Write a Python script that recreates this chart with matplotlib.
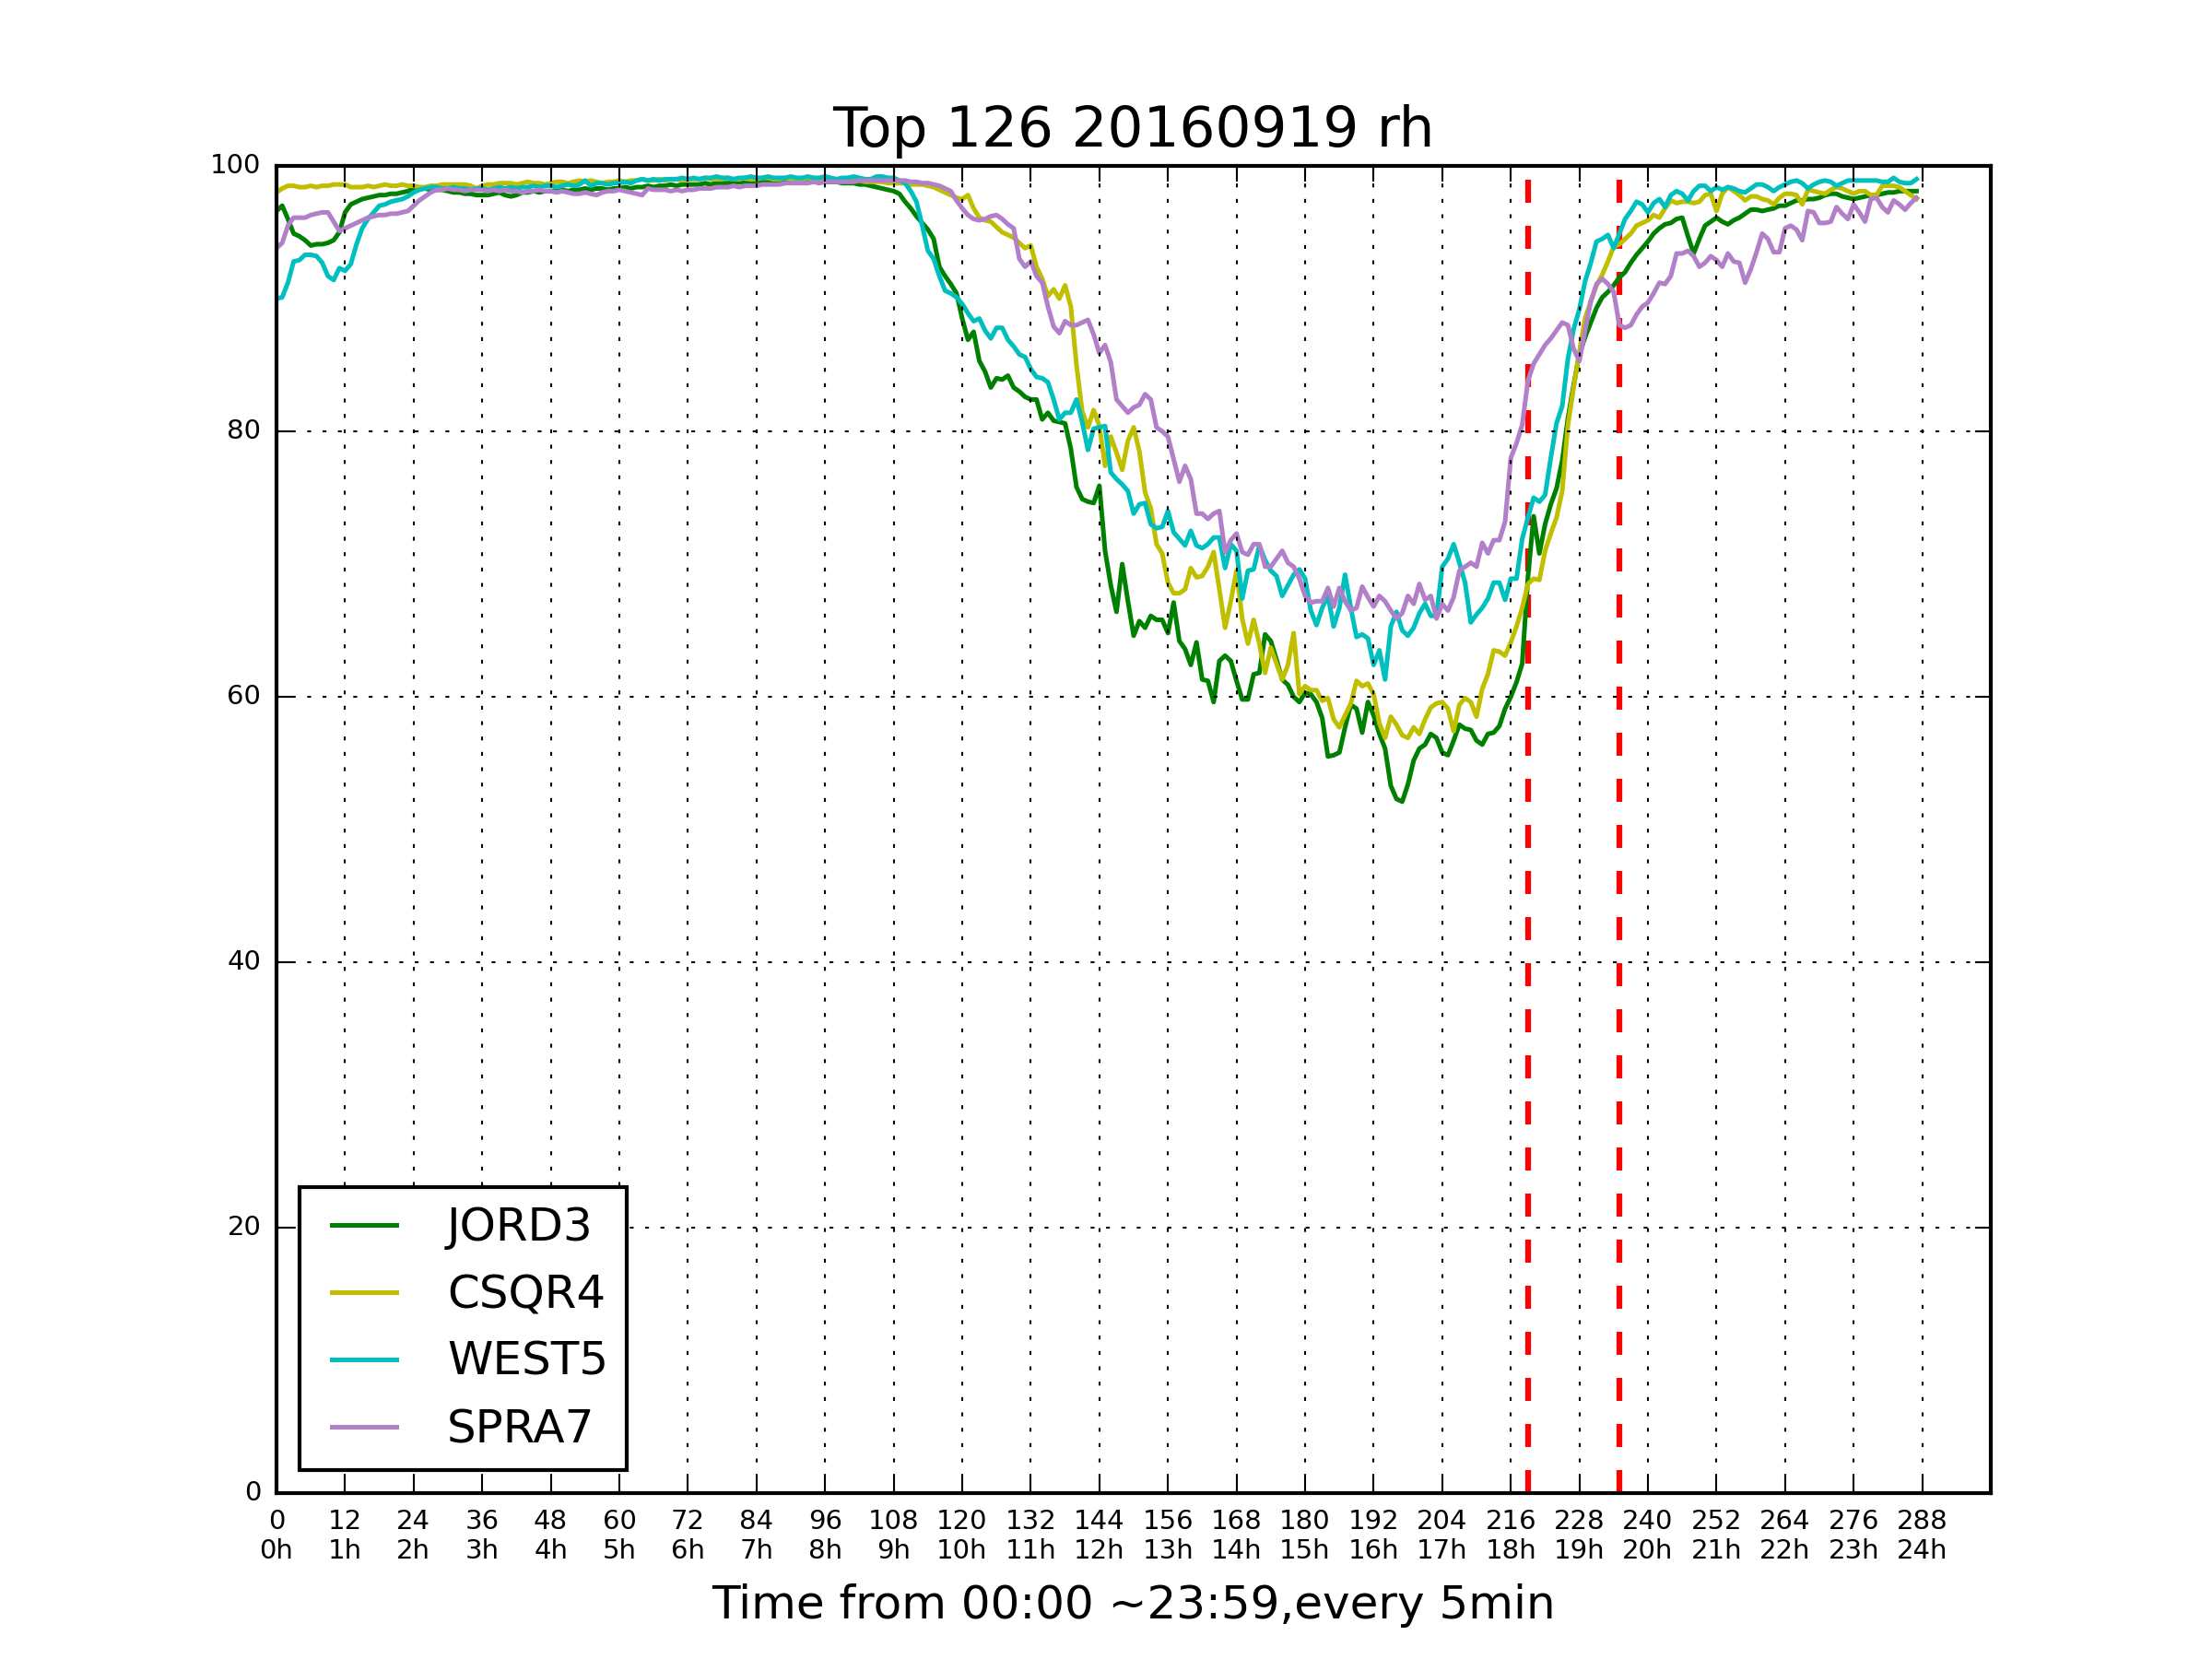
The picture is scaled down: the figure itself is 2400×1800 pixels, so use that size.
import matplotlib
matplotlib.use("Agg")
import matplotlib.pyplot as plt
import numpy as np

plt.style.use("classic")

# relative humidity, one value every 5 minutes (index 0..287)
jord3 = [
    96.6, 97.0, 96.0, 94.9, 94.7, 94.4, 94.0, 94.1, 94.1, 94.2,
    94.4, 95.0, 96.5, 97.1, 97.3, 97.5, 97.6, 97.7, 97.8, 97.8,
    97.9, 97.9, 98.0, 98.1, 98.3, 98.3, 98.3, 98.2, 98.2, 98.2,
    98.1, 98.0, 98.0, 97.9, 97.9, 97.8, 97.8, 97.8, 97.9, 98.0,
    97.8, 97.7, 97.8, 98.0, 98.0, 98.1, 98.0, 98.1, 98.1, 98.1,
    98.2, 98.1, 98.2, 98.2, 98.3, 98.2, 98.3, 98.3, 98.2, 98.3,
    98.3, 98.4, 98.3, 98.4, 98.4, 98.5, 98.4, 98.5, 98.5, 98.6,
    98.5, 98.6, 98.6, 98.6, 98.6, 98.7, 98.6, 98.7, 98.7, 98.7,
    98.7, 98.8, 98.7, 98.7, 98.7, 98.8, 98.8, 98.7, 98.8, 98.8,
    98.8, 98.9, 98.8, 98.8, 98.8, 98.9, 98.8, 98.8, 98.8, 98.7,
    98.7, 98.7, 98.6, 98.6, 98.5, 98.4, 98.3, 98.2, 98.1, 97.9,
    97.3, 96.8, 96.2, 95.7, 95.2, 94.5, 92.4, 91.7, 91.1, 90.4,
    88.5, 86.9, 87.5, 85.3, 84.5, 83.3, 84.0, 83.9, 84.2, 83.3,
    83.0, 82.6, 82.4, 82.4, 80.9, 81.4, 80.8, 80.7, 80.6, 78.7,
    75.8, 74.9, 74.7, 74.6, 75.9, 71.0, 68.4, 66.4, 70.0, 67.2,
    64.6, 65.7, 65.2, 66.1, 65.8, 65.8, 64.8, 67.1, 64.2, 63.6,
    62.4, 64.1, 61.3, 61.2, 59.6, 62.7, 63.1, 62.7, 61.2, 59.8,
    59.8, 61.7, 61.8, 64.7, 64.2, 62.8, 61.3, 60.9, 60.0, 59.6,
    60.3, 60.2, 59.6, 58.4, 55.5, 55.6, 55.8, 57.7, 59.4, 59.1,
    57.3, 59.6, 58.6, 57.2, 56.1, 53.3, 52.3, 52.1, 53.4, 55.2,
    56.1, 56.4, 57.2, 56.9, 55.8, 55.6, 56.7, 57.9, 57.6, 57.5,
    56.7, 56.4, 57.2, 57.3, 57.8, 59.1, 60.0, 61.1, 62.5, 69.0,
    73.6, 70.8, 73.0, 74.5, 75.7, 77.8, 81.0, 83.5, 85.8, 87.1,
    88.2, 89.3, 90.1, 90.5, 91.0, 91.6, 92.0, 92.7, 93.3, 93.8,
    94.3, 94.9, 95.3, 95.6, 95.7, 96.0, 96.1, 94.7, 93.4, 94.5,
    95.5, 95.8, 96.1, 95.8, 95.6, 95.9, 96.1, 96.4, 96.7, 96.7,
    96.6, 96.7, 96.8, 97.0, 97.0, 97.2, 97.4, 97.4, 97.5, 97.5,
    97.6, 97.8, 97.9, 97.9, 97.7, 97.6, 97.5, 97.6, 97.7, 97.8,
    97.8, 97.9, 98.0, 98.0, 98.1, 98.1, 98.1, 98.1,
]

csqr4 = [
    98.0, 98.3, 98.5, 98.5, 98.4, 98.4, 98.5, 98.4, 98.5, 98.5,
    98.6, 98.6, 98.6, 98.4, 98.4, 98.4, 98.5, 98.4, 98.5, 98.6,
    98.5, 98.5, 98.6, 98.5, 98.5, 98.4, 98.4, 98.5, 98.5, 98.6,
    98.6, 98.6, 98.6, 98.6, 98.5, 98.3, 98.5, 98.6, 98.6, 98.7,
    98.7, 98.7, 98.6, 98.7, 98.8, 98.7, 98.7, 98.6, 98.7, 98.8,
    98.8, 98.7, 98.8, 98.9, 98.8, 98.9, 98.8, 98.7, 98.8, 98.8,
    98.9, 98.8, 98.9, 98.9, 99.0, 98.9, 98.9, 99.0, 98.9, 99.0,
    99.0, 98.9, 99.0, 99.0, 99.0, 99.1, 99.0, 99.0, 99.0, 99.1,
    99.0, 99.0, 99.1, 99.0, 99.0, 99.1, 99.1, 99.0, 99.0, 99.1,
    99.0, 99.0, 99.0, 99.1, 99.0, 99.0, 99.0, 98.9, 99.0, 98.9,
    98.9, 98.9, 98.9, 98.8, 98.8, 98.8, 98.8, 98.7, 98.7, 98.7,
    98.7, 98.6, 98.6, 98.6, 98.5, 98.4, 98.2, 98.0, 97.8, 97.6,
    97.5, 97.8, 96.8, 96.1, 95.9, 95.8, 95.4, 95.0, 94.8, 94.6,
    94.2, 93.8, 94.0, 92.4, 91.5, 90.2, 90.7, 90.0, 91.0, 89.4,
    85.0, 81.5, 80.3, 81.6, 80.4, 77.4, 79.6, 78.4, 77.1, 79.3,
    80.3, 78.5, 75.4, 74.2, 71.5, 70.8, 68.6, 67.8, 67.8, 68.1,
    69.7, 69.0, 69.1, 69.8, 70.9, 68.1, 65.2, 67.2, 69.5, 65.9,
    64.0, 65.8, 64.0, 61.8, 63.7, 62.5, 61.3, 62.4, 64.8, 60.2,
    60.8, 60.5, 60.5, 59.7, 59.9, 58.3, 57.7, 58.6, 59.5, 61.2,
    60.8, 61.0, 60.2, 58.0, 56.9, 58.5, 57.9, 57.1, 56.9, 57.7,
    57.2, 58.3, 59.2, 59.5, 59.6, 59.1, 57.4, 59.4, 59.9, 59.6,
    58.5, 60.6, 61.7, 63.5, 63.4, 63.1, 64.1, 65.3, 66.7, 68.5,
    68.9, 68.8, 71.0, 72.3, 73.5, 75.5, 80.5, 83.3, 86.0, 88.5,
    89.8, 91.0, 91.8, 92.8, 93.9, 94.1, 94.5, 94.9, 95.5, 95.7,
    95.9, 96.3, 96.1, 96.8, 97.4, 97.2, 97.3, 97.3, 97.2, 97.3,
    97.8, 97.9, 96.6, 97.9, 98.4, 98.1, 97.8, 97.4, 97.7, 97.7,
    97.5, 97.4, 97.1, 97.6, 97.9, 97.9, 97.8, 97.1, 98.2, 98.1,
    98.0, 97.9, 98.2, 98.4, 98.3, 98.1, 97.9, 98.1, 98.1, 97.8,
    97.8, 98.5, 98.5, 98.5, 98.4, 98.1, 97.8, 97.5,
]

west5 = [
    90.0, 90.1, 91.2, 92.8, 92.9, 93.3, 93.3, 93.2, 92.7, 91.7,
    91.4, 92.3, 92.1, 92.6, 94.1, 95.3, 96.0, 96.5, 97.0, 97.1,
    97.3, 97.4, 97.5, 97.7, 98.0, 98.2, 98.3, 98.4, 98.4, 98.3,
    98.3, 98.4, 98.3, 98.3, 98.2, 98.3, 98.3, 98.2, 98.3, 98.4,
    98.3, 98.4, 98.3, 98.4, 98.4, 98.5, 98.4, 98.5, 98.5, 98.4,
    98.5, 98.6, 98.5, 98.6, 98.9, 98.5, 98.7, 98.7, 98.6, 98.7,
    98.7, 98.8, 98.7, 98.9, 99.0, 98.9, 99.0, 98.9, 99.0, 99.0,
    99.0, 99.1, 99.0, 99.1, 99.0, 99.1, 99.1, 99.2, 99.1, 99.1,
    99.0, 99.1, 99.1, 99.2, 99.1, 99.1, 99.2, 99.1, 99.1, 99.1,
    99.2, 99.1, 99.1, 99.2, 99.1, 99.1, 99.2, 99.1, 99.0, 99.1,
    99.1, 99.2, 99.1, 99.0, 99.0, 99.2, 99.2, 99.1, 99.1, 98.9,
    98.7, 98.1, 97.3, 95.5, 93.6, 93.0, 91.7, 90.6, 90.4, 90.1,
    89.6, 88.9, 88.3, 88.5, 87.6, 87.0, 87.8, 87.8, 86.9, 86.4,
    85.8, 85.6, 84.7, 84.1, 84.0, 83.7, 82.4, 80.9, 81.4, 81.4,
    82.4, 80.7, 78.6, 80.2, 80.3, 80.4, 76.9, 76.4, 76.0, 75.5,
    73.8, 74.5, 74.6, 73.0, 72.7, 72.8, 74.0, 72.4, 71.9, 71.4,
    72.5, 71.4, 71.2, 71.5, 72.0, 72.0, 69.7, 71.5, 71.0, 67.4,
    69.5, 69.6, 71.4, 70.3, 69.5, 69.1, 67.6, 68.4, 69.2, 69.6,
    68.9, 66.5, 65.4, 66.7, 67.6, 65.3, 66.7, 69.2, 66.7, 64.5,
    64.7, 64.4, 62.4, 63.5, 61.3, 65.3, 66.4, 65.0, 64.6, 65.2,
    66.3, 67.0, 66.1, 66.1, 69.8, 70.4, 71.5, 70.1, 68.6, 65.6,
    66.2, 66.7, 67.4, 68.6, 68.6, 67.3, 68.9, 68.9, 71.9, 73.5,
    75.0, 74.7, 75.2, 78.0, 80.6, 81.9, 85.5, 87.7, 89.2, 91.3,
    92.7, 94.3, 94.5, 94.8, 93.8, 94.9, 96.0, 96.6, 97.3, 97.1,
    96.5, 97.2, 97.5, 96.9, 97.8, 98.1, 97.9, 97.4, 98.1, 98.5,
    98.5, 98.1, 98.4, 98.2, 98.4, 98.3, 98.1, 98.0, 98.3, 98.6,
    98.6, 98.4, 98.1, 98.4, 98.6, 98.8, 98.9, 98.7, 98.3, 98.6,
    98.8, 98.9, 98.8, 98.5, 98.7, 98.9, 98.9, 98.9, 98.9, 98.9,
    98.9, 98.8, 98.8, 99.1, 98.8, 98.7, 98.7, 99.0,
]

spra7 = [
    93.8, 94.2, 95.5, 96.1, 96.1, 96.1, 96.3, 96.4, 96.5, 96.5,
    95.8, 95.1, 95.3, 95.5, 95.7, 95.9, 96.1, 96.2, 96.3, 96.3,
    96.4, 96.4, 96.5, 96.6, 97.0, 97.4, 97.7, 98.0, 98.2, 98.2,
    98.3, 98.2, 98.2, 98.1, 98.2, 98.2, 98.2, 98.1, 98.2, 98.1,
    98.2, 98.1, 98.1, 98.0, 98.1, 98.1, 98.2, 98.1, 98.1, 98.0,
    98.1, 98.0, 97.9, 97.9, 98.0, 97.9, 97.8, 98.0, 98.1, 98.1,
    98.2, 98.1, 98.0, 97.9, 97.8, 98.3, 98.2, 98.2, 98.2, 98.1,
    98.2, 98.1, 98.2, 98.2, 98.3, 98.3, 98.3, 98.4, 98.4, 98.4,
    98.5, 98.4, 98.5, 98.5, 98.5, 98.6, 98.6, 98.6, 98.6, 98.7,
    98.7, 98.7, 98.7, 98.7, 98.8, 98.7, 98.8, 98.8, 98.8, 98.8,
    98.8, 98.8, 98.9, 98.9, 98.9, 98.9, 98.9, 98.9, 98.9, 98.9,
    98.9, 98.8, 98.8, 98.7, 98.7, 98.6, 98.5, 98.3, 98.1, 97.4,
    96.8, 96.3, 96.0, 95.9, 96.0, 96.2, 96.3, 96.0, 95.6, 95.3,
    93.0, 92.4, 92.8, 91.7, 91.2, 89.4, 87.9, 87.4, 88.3, 88.0,
    88.0, 88.2, 88.4, 87.3, 85.9, 86.5, 85.2, 82.4, 81.9, 81.4,
    81.8, 82.0, 82.8, 82.4, 80.3, 80.0, 79.6, 77.9, 76.2, 77.4,
    76.4, 73.8, 73.8, 73.4, 73.8, 74.0, 70.9, 71.8, 72.3, 70.9,
    70.7, 71.5, 71.5, 69.8, 69.8, 70.4, 71.0, 70.1, 69.8, 68.9,
    67.6, 67.1, 67.2, 67.2, 68.2, 66.8, 68.2, 67.2, 66.5, 66.7,
    68.3, 67.5, 66.8, 67.6, 67.2, 66.5, 65.9, 66.3, 67.6, 67.0,
    68.5, 67.3, 67.6, 65.9, 67.0, 66.5, 67.5, 69.5, 69.8, 70.1,
    69.8, 71.6, 70.8, 71.8, 71.8, 73.2, 78.0, 79.1, 80.5, 83.8,
    85.1, 85.8, 86.5, 87.0, 87.6, 88.2, 88.0, 86.2, 85.3, 87.6,
    89.8, 91.1, 91.5, 91.1, 90.5, 88.0, 87.8, 88.0, 88.8, 89.4,
    89.7, 90.4, 91.2, 91.1, 91.7, 93.4, 93.4, 93.6, 93.2, 92.4,
    92.7, 93.2, 92.9, 92.4, 93.4, 92.8, 92.7, 91.2, 92.2, 93.5,
    94.9, 94.5, 93.5, 93.5, 95.3, 95.5, 95.2, 94.4, 96.6, 96.5,
    95.7, 95.7, 95.8, 96.9, 96.4, 96.0, 97.1, 96.5, 95.8, 97.5,
    97.6, 96.9, 96.5, 97.4, 97.1, 96.7, 97.2, 97.6,
]

stations = ["JORD3", "CSQR4", "WEST5", "SPRA7"]
colors = ["g", "y", "c", "#b27fc9"]

tick_pos = list(range(0, 289, 12))
tick_labels = ["%d\n%dh" % (t, t // 12) for t in tick_pos]
marker_times = [219, 235]

fig, ax = plt.subplots(figsize=(8, 6), dpi=300, facecolor="white")
fig.subplots_adjust(left=0.125, right=0.9, bottom=0.1, top=0.9)

# red markers go under the station curves
for t in marker_times:
    ax.axvline(t, color="r", ls="--", lw=1.5)

for name, values, color in zip(stations, [jord3, csqr4, west5, spra7], colors):
    ax.plot(np.arange(len(values)), values, color=color, lw=1.2, label=name)

ax.set_xlim(0, 300)
ax.set_ylim(0, 100)
ax.set_xticks(tick_pos)
ax.set_xticklabels(tick_labels, fontsize=7)
ax.tick_params(axis="y", labelsize=7)
ax.grid(True)

ax.set_title("Top 126 20160919 rh", fontsize=14.7, pad=5)
ax.set_xlabel("Time from 00:00 ~23:59,every 5min", fontsize=12)
ax.legend(loc="lower left", fontsize=12, handlelength=2.0,
          handletextpad=0.8, labelspacing=0.5, borderpad=0.4)

fig.savefig("out.png", dpi=300, facecolor="white")
